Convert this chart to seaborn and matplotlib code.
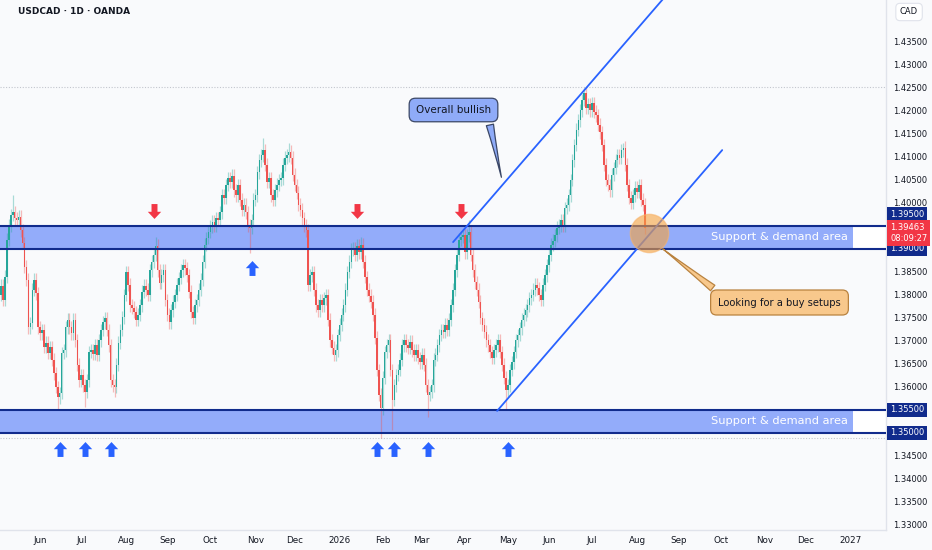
import matplotlib
matplotlib.use("Agg")
import matplotlib.pyplot as plt
import matplotlib.transforms as mtransforms
from matplotlib.path import Path
import seaborn as sns
import numpy as np
import pandas as pd

# daily closes USDCAD, first bar 2025-05-05
closes = [
    1.3820, 1.3790, 1.3840, 1.3920, 1.3952, 1.3974, 1.3980, 1.3967, 1.3963, 1.3970,
    1.3941, 1.3913, 1.3861, 1.3833, 1.3730, 1.3739, 1.3811, 1.3833, 1.3804, 1.3730,
    1.3717, 1.3724, 1.3687, 1.3696, 1.3674, 1.3687, 1.3659, 1.3630, 1.3600, 1.3578,
    1.3587, 1.3674, 1.3680, 1.3730, 1.3746, 1.3730, 1.3717, 1.3746, 1.3702, 1.3648,
    1.3615, 1.3626, 1.3604, 1.3589, 1.3615, 1.3676, 1.3680, 1.3672, 1.3691, 1.3670, 1.3702,
    1.3724, 1.3741, 1.3750, 1.3724, 1.3691, 1.3615, 1.3604, 1.3600, 1.3648, 1.3696,
    1.3724, 1.3752, 1.3800, 1.3850, 1.3822, 1.3778, 1.3772, 1.3763, 1.3746, 1.3757,
    1.3778, 1.3807, 1.3820, 1.3811, 1.3800, 1.3854, 1.3872, 1.3887, 1.3907, 1.3854,
    1.3826, 1.3843, 1.3854, 1.3789, 1.3757, 1.3741, 1.3767, 1.3785, 1.3800, 1.3822,
    1.3837, 1.3854, 1.3865, 1.3858, 1.3843, 1.3807, 1.3763, 1.3750, 1.3778, 1.3789, 1.3811,
    1.3833, 1.3872, 1.3909, 1.3924, 1.3937, 1.3948, 1.3959, 1.3950, 1.3967, 1.3963,
    1.3980, 1.4017, 1.4011, 1.4039, 1.4054, 1.4046, 1.4059, 1.4028, 1.4017, 1.4039,
    1.4007, 1.3985, 1.3996, 1.3980, 1.3952, 1.3946, 1.3963, 1.4007, 1.4017, 1.4067,
    1.4093, 1.4104, 1.4115, 1.4083, 1.4046, 1.4054, 1.4017, 1.4007, 1.4028, 1.4040, 1.4050,
    1.4054, 1.4083, 1.4098, 1.4104, 1.4111, 1.4098, 1.4061, 1.4039, 1.4022, 1.3996,
    1.3985, 1.3967, 1.3952, 1.3941, 1.3822, 1.3843, 1.3850, 1.3811, 1.3778, 1.3767,
    1.3789, 1.3778, 1.3793, 1.3800, 1.3746, 1.3702, 1.3685, 1.3670, 1.3680, 1.3713,
    1.3735, 1.3757, 1.3778, 1.3811, 1.3850, 1.3872, 1.3898, 1.3902, 1.3887, 1.3907,
    1.3893, 1.3909, 1.3872, 1.3839, 1.3811, 1.3798, 1.3785, 1.3757, 1.3707, 1.3637, 1.3583,
    1.3554, 1.3620, 1.3676, 1.3691, 1.3702, 1.3637, 1.3572, 1.3604, 1.3626, 1.3637,
    1.3659, 1.3691, 1.3702, 1.3691, 1.3685, 1.3698, 1.3680, 1.3670, 1.3680, 1.3663,
    1.3654, 1.3670, 1.3648, 1.3604, 1.3583, 1.3589, 1.3604, 1.3659, 1.3670, 1.3691,
    1.3713, 1.3724, 1.3720, 1.3735, 1.3724, 1.3746, 1.3778, 1.3811, 1.3854, 1.3887,
    1.3920, 1.3926, 1.3930, 1.3893, 1.3930, 1.3937, 1.3887, 1.3854, 1.3828, 1.3811, 1.3785,
    1.3750, 1.3735, 1.3720, 1.3702, 1.3691, 1.3676, 1.3663, 1.3680, 1.3691, 1.3702,
    1.3676, 1.3648, 1.3620, 1.3593, 1.3604, 1.3637, 1.3654, 1.3676, 1.3702, 1.3713,
    1.3728, 1.3746, 1.3757, 1.3767, 1.3778, 1.3793, 1.3800, 1.3811, 1.3822, 1.3815,
    1.3800, 1.3789, 1.3822, 1.3843, 1.3865, 1.3887, 1.3909, 1.3918, 1.3930, 1.3946, 1.3952,
    1.3963, 1.3952, 1.3989, 1.3996, 1.4017, 1.4050, 1.4093, 1.4126, 1.4159, 1.4180,
    1.4202, 1.4224, 1.4239, 1.4207, 1.4215, 1.4202, 1.4217, 1.4198, 1.4191, 1.4170,
    1.4154, 1.4126, 1.4083, 1.4050, 1.4039, 1.4028, 1.4061, 1.4076, 1.4093, 1.4104,
    1.4098, 1.4115, 1.4120, 1.4083, 1.4039, 1.4011, 1.4000, 1.4017, 1.4033, 1.4024,
    1.4039, 1.4007, 1.3996, 1.39463,
]
first_open = 1.3800
start_date = "2025-05-05"
# candles with long wicks
spike_lows = {29: 1.3550, 43: 1.3557, 58: 1.3578, 127: 1.3891, 194: 1.3489,
              200: 1.3506, 218: 1.3535, 258: 1.3550}
spike_highs = {6: 1.4017, 79: 1.3926, 134: 1.4141, 147: 1.4130, 184: 1.3926,
               239: 1.3963, 298: 1.4250, 318: 1.4130}

zones = [(1.3900, 1.3950), (1.3500, 1.3550)]
zone_text = "Support & demand area"
sell_marks = [78, 182, 235]
sell_level = 1.3983
buy_marks_upper = [128]
buy_level_upper = 1.3859
buy_marks_lower = [30, 43, 56, 192, 201, 218, 259]
buy_level_lower = 1.3465
channel_lower = ([253.5, 368.5], [1.3548, 1.4115])
channel_upper = ([231.0, 340.0], [1.3915, 1.4452])
focus_point = (331, 1.3935)
bullish_tip = (256, 1.4050)
buy_tip = (337, 1.3904)
price_ticks = [1.330, 1.335, 1.340, 1.345, 1.350, 1.355, 1.360, 1.365, 1.370, 1.375,
               1.380, 1.385, 1.390, 1.395, 1.400, 1.405, 1.410, 1.415, 1.420, 1.425,
               1.430, 1.435]
countdown = "08:09:27"

BG = "#f9fafc"
UP = "#26a69a"
DOWN = "#ef5350"
ZONE = "#93acfa"
NAVY = "#112b8c"
BLUE = "#2962ff"
RED = "#f23645"
TXT = "#131722"

sns.set_style("white")
plt.rcParams["font.family"] = ["DejaVu Sans"]

fig = plt.figure(figsize=(9.32, 5.5), dpi=100)
fig.patch.set_facecolor(BG)
ax = fig.add_axes([0, 20 / 550, 886 / 932, 530 / 550])
ax.set_facecolor(BG)

# candles
c = np.array(closes)
n = len(c)
idx = np.arange(n)
o = np.r_[first_open, c[:-1]]
hi = np.maximum(o, c) + 0.0014
lo = np.minimum(o, c) - 0.0014
for k, v in spike_highs.items():
    hi[k] = v
for k, v in spike_lows.items():
    lo[k] = v
cols = np.where(c >= o, UP, DOWN)
ax.vlines(idx, lo, hi, colors=cols, lw=0.9, alpha=0.38, zorder=3)
body = np.maximum(np.abs(c - o), 0.00018)
ax.bar(idx, body, bottom=np.minimum(o, c), width=0.8, color=cols, linewidth=0, zorder=3)

# high / low dotted lines
ax.axhline(hi.max(), color="#c3c6ce", lw=0.8, ls=(0, (1, 1.5)), zorder=0.5)
ax.axhline(lo.min(), color="#c3c6ce", lw=0.8, ls=(0, (1, 1.5)), zorder=0.5)

# support zones
trans = mtransforms.blended_transform_factory(ax.transAxes, ax.transData)
fill_end = 853 / 886
for z_lo, z_hi in zones:
    ax.axhspan(z_lo, z_hi, xmin=0, xmax=fill_end, color=ZONE, lw=0, zorder=1)
    ax.axhspan(z_lo, z_hi, xmin=fill_end, xmax=1, color="white", lw=0, zorder=1)
    ax.axhline(z_lo, color=NAVY, lw=1.5, zorder=4)
    ax.axhline(z_hi, color=NAVY, lw=1.5, zorder=4)
    ax.text(848 / 886, (z_lo + z_hi) / 2, zone_text, transform=trans, ha="right",
            va="center", color="white", fontsize=8.2, zorder=6)

# channel
sns.lineplot(x=channel_lower[0], y=channel_lower[1], ax=ax, color=BLUE, lw=1.3, zorder=5)
sns.lineplot(x=channel_upper[0], y=channel_upper[1], ax=ax, color=BLUE, lw=1.3, zorder=5)

# focus circle
ax.scatter([focus_point[0]], [focus_point[1]], s=760, color="#f6a23e", alpha=0.6,
           edgecolor="#f7b36a", lw=1, zorder=6)

# arrow markers
up_arrow = Path([(0, 0.5), (0.45, 0.02), (0.2, 0.02), (0.2, -0.5), (-0.2, -0.5),
                 (-0.2, 0.02), (-0.45, 0.02), (0, 0.5)], closed=True)
down_arrow = Path([(x, -y) for x, y in up_arrow.vertices], closed=True)
ax.scatter(sell_marks, [sell_level] * len(sell_marks), marker=down_arrow, s=115,
           color=RED, lw=0, zorder=7)
ax.scatter(buy_marks_upper, [buy_level_upper] * len(buy_marks_upper), marker=up_arrow,
           s=115, color=BLUE, lw=0, zorder=7)
ax.scatter(buy_marks_lower, [buy_level_lower] * len(buy_marks_lower), marker=up_arrow,
           s=115, color=BLUE, lw=0, zorder=7)

# callouts
ax.annotate("Overall bullish", xy=bullish_tip, xytext=(453.5, 440),
            textcoords="figure pixels", ha="center", va="center", fontsize=7.5, color=TXT,
            bbox=dict(boxstyle="round,pad=0.65,rounding_size=0.6", fc="#8fabf8", ec="#3b4766", lw=0.9),
            arrowprops=dict(arrowstyle="wedge,tail_width=0.7,shrink_factor=0.4", fc="#8fabf8",
                            ec="#3b4766", lw=0.9, relpos=(0.95, 0.2)), zorder=8)
ax.annotate("Looking for a buy setups", xy=buy_tip, xytext=(779.5, 247.5),
            textcoords="figure pixels", ha="center", va="center", fontsize=7.2, color=TXT,
            bbox=dict(boxstyle="round,pad=0.75,rounding_size=0.6", fc="#f8c88c", ec="#b9823f", lw=0.9),
            arrowprops=dict(arrowstyle="wedge,tail_width=0.7,shrink_factor=0.4", fc="#f8c88c",
                            ec="#b9823f", lw=0.9, relpos=(0.07, 0.85)), zorder=8)

ax.set_ylim(1.32891, 1.44413)
ax.set_xlim(-0.51, 452.2)

# time axis
dates = pd.bdate_range(start_date, periods=460)
month_pos = [i for i in range(1, 453) if dates[i].month != dates[i - 1].month]
month_lab = [str(dates[i].year) if dates[i].month == 1 else dates[i].strftime("%b")
             for i in month_pos]
ax.set_xticks(month_pos, month_lab)
ax.tick_params(axis="x", length=0, pad=4.5, labelsize=6.3, labelcolor=TXT)

# price axis
tag_prices = [p for z in zones for p in z]
shown = [p for p in price_ticks if all(abs(p - t) > 1e-6 for t in tag_prices)]
ax.yaxis.tick_right()
ax.set_yticks(shown, [f"{p:.5f}" for p in shown])
ax.tick_params(axis="y", length=0, pad=5, labelsize=6, labelcolor=TXT)


def price_tag(y, txt, fc, dy=0):
    ax.annotate(txt, xy=(1, y), xycoords=trans, xytext=(3, dy), textcoords="offset points",
                ha="left", va="center", fontsize=6, color="white", linespacing=1.25,
                bbox=dict(boxstyle="square,pad=0.35", fc=fc, ec="none"),
                annotation_clip=False, zorder=10)


price_tag(zones[0][1], f"{zones[0][1]:.5f}", NAVY, dy=8)
price_tag(zones[0][0], f"{zones[0][0]:.5f}", NAVY)
price_tag(zones[1][1], f"{zones[1][1]:.5f}", NAVY)
price_tag(zones[1][0], f"{zones[1][0]:.5f}", NAVY)
price_tag(closes[-1], f"{closes[-1]:.5f}\n{countdown}", RED, dy=-4)

for side in ["top", "left"]:
    ax.spines[side].set_visible(False)
for side in ["right", "bottom"]:
    ax.spines[side].set_color("#e0e3eb")
    ax.spines[side].set_linewidth(1)

fig.text(18 / 932, 1 - 12 / 550, "USDCAD · 1D · OANDA", fontsize=6.5, fontweight="bold",
         color=TXT, va="center", ha="left")
fig.text(900 / 932, 1 - 12 / 550, "CAD", fontsize=6, color=TXT, va="center", ha="left",
         bbox=dict(boxstyle="round,pad=0.5", fc="white", ec="#e0e3eb", lw=0.8))

fig.savefig("out.png", dpi=100, facecolor=BG)
